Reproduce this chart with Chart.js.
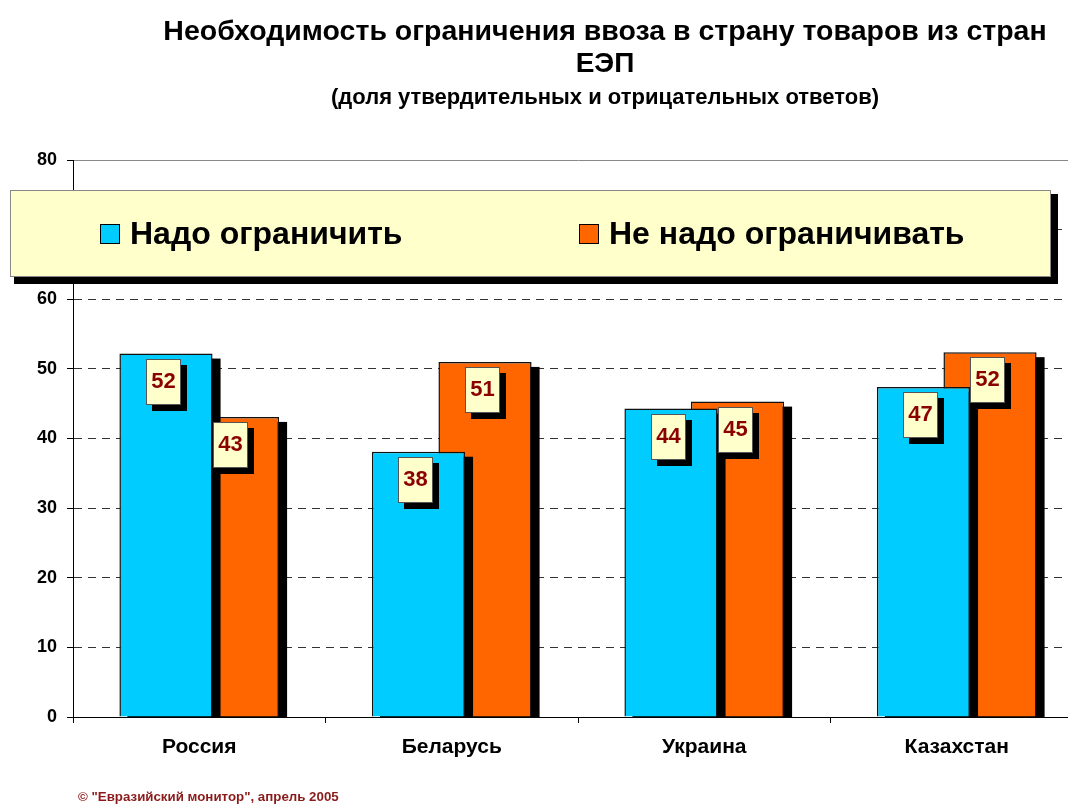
<!DOCTYPE html>
<html>
<head>
<meta charset="utf-8">
<script src="https://cdn.jsdelivr.net/npm/chart.js@4.4.0/dist/chart.umd.min.js"></script>
<style>
body{margin:0;background:#fff;overflow:hidden;width:1068px;height:804px;position:relative;font-family:"Liberation Sans",Arial,sans-serif}
#wrap{position:absolute;left:0;top:0;width:1068px;height:804px;overflow:hidden}
#c{position:absolute;left:0;top:0}
.t{position:absolute;left:0;width:1210px;text-align:center;font-weight:bold;color:#000;white-space:nowrap}
#t1{top:14px;font-size:28.5px;line-height:32px}
#t2{top:47px;font-size:28px;line-height:32px}
#t3{top:84px;font-size:22px;line-height:26px}
#foot{position:absolute;left:78px;top:789px;font-size:13.3px;line-height:16px;font-weight:bold;color:#8B1A1A;white-space:nowrap}
</style>
</head>
<body>
<div id="wrap">
<canvas id="c" width="1090" height="804"></canvas>
<div class="t" id="t1">Необходимость ограничения ввоза в страну товаров из стран</div>
<div class="t" id="t2">ЕЭП</div>
<div class="t" id="t3">(доля утвердительных и отрицательных ответов)</div>
<div id="foot">© "Евразийский монитор", апрель 2005</div>
</div>
<script>
const countries=["Россия","Беларусь","Украина","Казахстан"];
const mustLimit=[52.2,38.1,44.3,47.4];
const noLimit=[43.1,51.0,45.3,52.4];
const seriesNames=["Надо ограничить","Не надо ограничивать"];
const seriesColors=["#00CCFF","#FF6600"];

const FONT='"Liberation Sans", Arial, sans-serif';

// black offset shadow under each bar, drawn before its dataset
const barShadow={
id:"barShadow",
beforeDatasetDraw(chart,args){
const ctx=chart.ctx,a=chart.chartArea;
ctx.save();
ctx.beginPath();
ctx.rect(a.left,a.top,a.right-a.left,a.bottom-a.top);
ctx.clip();
ctx.fillStyle="#000";
args.meta.data.forEach(b=>{
ctx.fillRect(b.x-b.width/2+8,b.y+5,b.width,b.base-b.y);
});
ctx.restore();
}
};

// value boxes inside bar tops
const valueBoxes={
id:"valueBoxes",
afterDatasetsDraw(chart){
const ctx=chart.ctx;
ctx.save();
chart.data.datasets.forEach((ds,i)=>{
chart.getDatasetMeta(i).data.forEach((b,j)=>{
const w=35,h=46;
const l=Math.round(b.x-2.5-w/2),t=Math.round(b.y+5);
ctx.fillStyle="#000";
ctx.fillRect(l+6,t+6,w,h);
ctx.fillStyle="#FFFFCC";
ctx.fillRect(l,t,w,h);
ctx.strokeStyle="#555";
ctx.lineWidth=1;
ctx.strokeRect(l+0.5,t+0.5,w-1,h-1);
ctx.fillStyle="#8B0000";
ctx.font="bold 22px "+FONT;
ctx.textAlign="center";
ctx.textBaseline="middle";
ctx.fillText(String(Math.round(ds.data[j])),l+w/2,t+h/2);
});
});
ctx.restore();
}
};

// legend panel over the top of the plot
const legendPanel={
id:"legendPanel",
afterDraw(chart){
const ctx=chart.ctx;
ctx.save();
ctx.fillStyle="#000";
ctx.fillRect(14,194,1044,90);
ctx.fillStyle="#FFFFCC";
ctx.fillRect(10,190,1041,87);
ctx.strokeStyle="#888";
ctx.lineWidth=1;
ctx.strokeRect(10.5,190.5,1040,86);
const xs=[100,579];
chart.data.datasets.forEach((ds,i)=>{
ctx.fillStyle=ds.backgroundColor;
ctx.fillRect(xs[i],224,20,20);
ctx.strokeStyle="#000";
ctx.strokeRect(xs[i]+0.5,224.5,19,19);
ctx.fillStyle="#000";
ctx.font="bold 32px "+FONT;
ctx.textAlign="left";
ctx.textBaseline="middle";
ctx.fillText(ds.label,xs[i]+30,235);
});
ctx.restore();
}
};

new Chart(document.getElementById("c"),{
type:"bar",
data:{
labels:countries,
datasets:[
{label:seriesNames[0],data:mustLimit,backgroundColor:seriesColors[0],borderColor:"#111",borderWidth:1.5,categoryPercentage:0.527,barPercentage:1.40,clip:0},
{label:seriesNames[1],data:noLimit,backgroundColor:seriesColors[1],borderColor:"#111",borderWidth:1.5,categoryPercentage:0.527,barPercentage:1.40,clip:0}
]
},
options:{
responsive:false,
animation:false,
layout:{padding:{top:160,right:7,left:0,bottom:0}},
plugins:{legend:{display:false},tooltip:{enabled:false},title:{display:false}},
scales:{
x:{
ticks:{color:"#000",font:{family:FONT,size:21,weight:"bold"},padding:12},
grid:{drawOnChartArea:false,drawTicks:true,tickLength:6,color:"#000",offset:true},
border:{color:"#000",width:1},
afterFit:s=>{s.height=87;}
},
y:{
min:0,max:80,
ticks:{stepSize:10,color:"#000",font:{family:FONT,size:18,weight:"bold"},padding:10},
grid:{color:c=>(c.tick&&c.tick.value===80)?"#888":"#333",tickColor:"#000",tickLength:6,lineWidth:1},
border:{color:"#000",width:1,dash:c=>(c.tick&&c.tick.value===80)?[]:[8,6]},
afterFit:s=>{s.width=73;}
}
}
},
plugins:[barShadow,valueBoxes,legendPanel]
});
</script>
</body>
</html>
